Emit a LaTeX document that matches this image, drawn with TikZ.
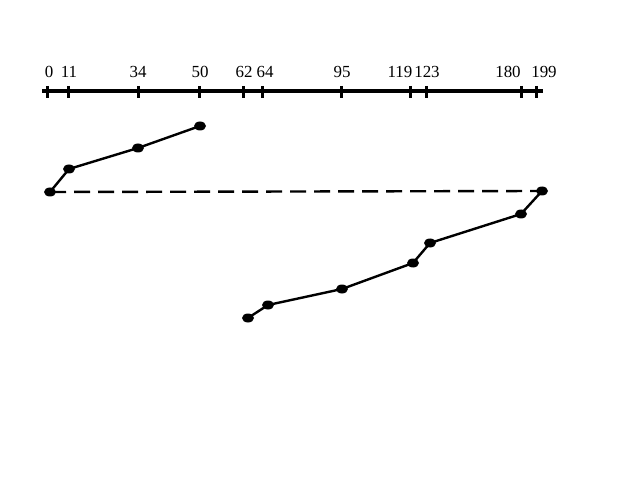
\documentclass[tikz,border=0pt]{standalone}
\usepackage{fontspec}
\setmainfont{Liberation Serif}
\usetikzlibrary{shapes.geometric}
\begin{document}
\begin{tikzpicture}[x=1bp,y=-1bp,
  dot/.style={ellipse,fill=black,inner sep=0pt,minimum width=12bp,minimum height=9bp},
  seg/.style={line width=2.4bp},
  axisline/.style={line width=3.2bp},
  tickmark/.style={line width=3bp},
  ticklabel/.style={font=\fontsize{17}{17}\selectfont,anchor=base,inner sep=0pt}]
\useasboundingbox (0,0) rectangle (640,480);
% axis
\coordinate (axL) at (42,91);
\coordinate (axR) at (543,91);
\draw[axisline] (axL) -- (axR);
\foreach \v/\x/\lx in {0/47/49,11/68/69,34/138/138,50/199/200,62/243/244,64/262/265,95/341/342,119/410/400,123/426/427,180/521/508,199/536/544}{
  \coordinate (t\v a) at (\x,86);
  \coordinate (t\v b) at (\x,98);
  \draw[tickmark] (t\v a) -- (t\v b);
  \node[ticklabel] (l\v) at (\lx,78) {\v};
}
% points
\node[dot] (p1) at (50,192) {};
\node[dot] (p2) at (69,169) {};
\node[dot] (p3) at (138,148) {};
\node[dot] (p4) at (200,126) {};
\node[dot] (q1) at (542,191) {};
\node[dot] (q2) at (521,214) {};
\node[dot] (q3) at (430,243) {};
\node[dot] (q4) at (413,263) {};
\node[dot] (q5) at (342,289) {};
\node[dot] (q6) at (268,305) {};
\node[dot] (q7) at (248,318) {};
\draw[seg] (p1.center) -- (p2.center) -- (p3.center) -- (p4.center);
\draw[seg,dash pattern=on 16bp off 8bp] (p1.center) -- (q1.center);
\draw[seg] (q1.center) -- (q2.center) -- (q3.center) -- (q4.center) -- (q5.center) -- (q6.center) -- (q7.center);
\end{tikzpicture}
\end{document}
